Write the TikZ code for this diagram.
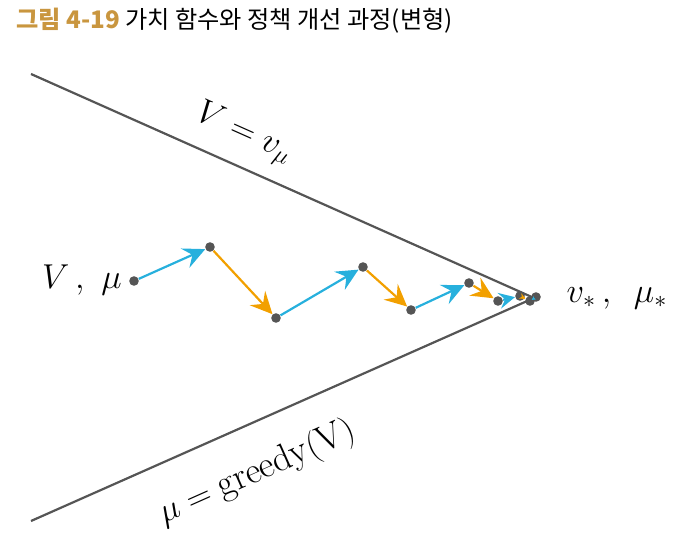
\documentclass[tikz,border=0pt]{standalone}
\usepackage{fontspec}
\newfontfamily\krfont{Noto Sans CJK KR}
\usetikzlibrary{arrows.meta}
\definecolor{titlegold}{HTML}{C9963F}
\definecolor{evalblue}{HTML}{27B0DD}
\definecolor{imporange}{HTML}{F2A000}
\definecolor{dotgray}{HTML}{555555}
\tikzset{>=latex}
\tikzstyle{bound} = [line width = 1.1pt, color = dotgray]
\tikzstyle{dot} = [circle, fill = dotgray, inner sep = 0pt, minimum size = 4.8pt]
\tikzstyle{evalarrow} = [%
					line width = 1.1pt,
					color = evalblue,
					-{Stealth[length=11pt, width=10.5pt, inset=4pt]}
					]
\tikzstyle{imparrow} = [%
					line width = 1.1pt,
					color = imporange,
					-{Stealth[length=11pt, width=10.5pt, inset=4pt]}
					]
\tikzstyle{lbl} = [font = \fontsize{18.5}{20}\selectfont, inner sep = 0pt]

\begin{document}
\begin{tikzpicture}[x=0.5pt, y=-0.5pt]
	\useasboundingbox (0,0) rectangle (684,544);
	
	% Title
	\node[anchor=base west, inner sep=0pt, font=\krfont\fontsize{12.1}{14}\selectfont] (title) at (16,29) {\textcolor{titlegold}{\bfseries 그림 4-19} 가치 함수와 정책 개선 과정(변형)};
	
	% Coordinates
	\coordinate (U) at (31,74);
	\coordinate (L) at (31,521);
	\coordinate (T) at (534,298);
	
	% Boundary Lines
	\draw[bound] (U) -- (T);
	\draw[bound] (L) -- (T);
	
	% Points
	\foreach \n/\x/\y in {0/134/281, 1/210/247, 2/276/318, 3/363/267, 4/411/310, 5/469/283, 6/498/301, 7/520/296, 8/530/301, 9/536/297}
	{
		\node[dot] (p\n) at (\x,\y) {};
	};
	
	% Evaluation / Improvement
	\foreach \a/\b in {0/1, 2/3, 4/5}
	{
		\draw[evalarrow] (p\a) -- (p\b);
	};
	\foreach \a/\b in {1/2, 3/4, 5/6}
	{
		\draw[imparrow] (p\a) -- (p\b);
	};
	\draw[evalarrow, -{Stealth[length=8pt, width=8pt, inset=3pt]}] (p6) -- (p7);
	\draw[imparrow, -{Stealth[length=3pt, width=3pt, inset=1pt]}] (p7) -- (p8);
	\draw[evalarrow, line width=0.8pt, -{Stealth[length=2pt, width=2pt]}] (p8) -- (p9);
	
	% Labels
	\node[lbl] (start) at (82,280) {$V\,,\ \mu$};
	\node[lbl] (goal) at (617,298) {$v_*\,,\ \,\mu_*$};
	\node[lbl, rotate=-24] (vlabel) at (244,134) {$V = v_\mu$};
	\node[lbl, rotate=24] (mulabel) at (257,473) {$\mu = \mathrm{greedy}(\mathrm{V})$};

\end{tikzpicture}
\end{document}
